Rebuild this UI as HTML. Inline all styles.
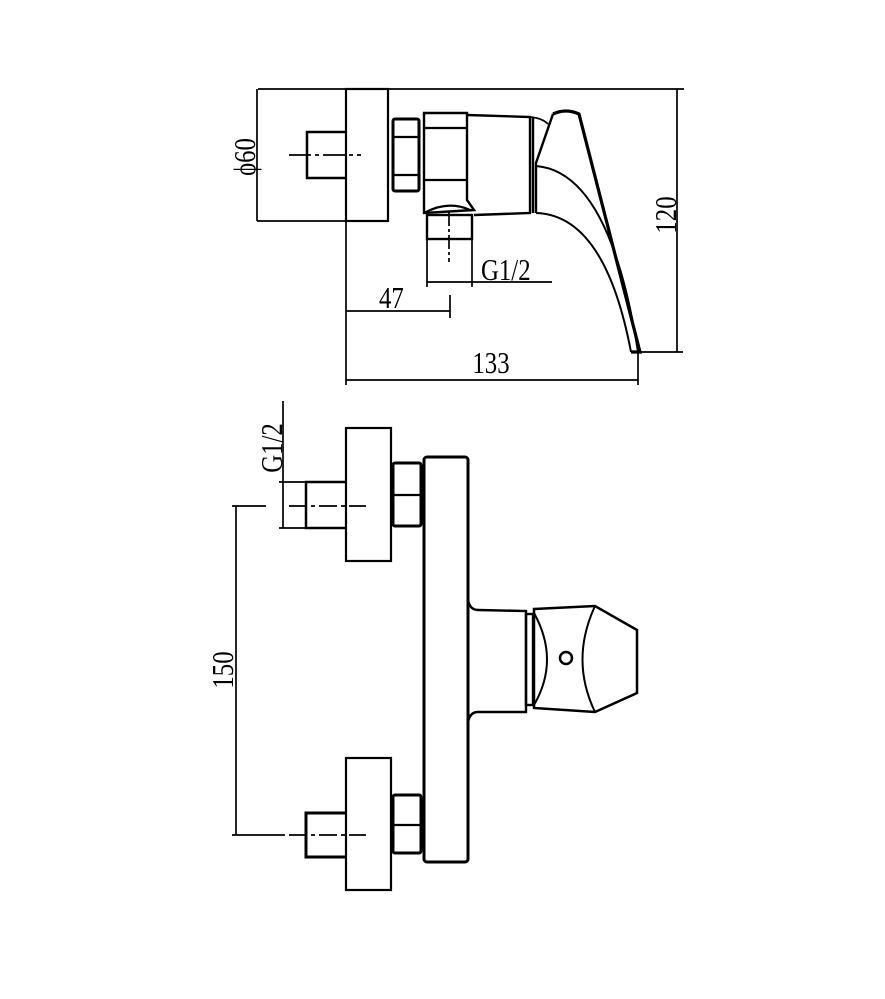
<!DOCTYPE html>
<html><head><meta charset="utf-8"><style>html,body{margin:0;padding:0;background:#fff}svg{display:block}</style></head>
<body>
<svg width="885" height="999" viewBox="0 0 885 999" xmlns="http://www.w3.org/2000/svg" font-family="Liberation Serif, serif" fill="none" stroke="#000" stroke-width="1.7">
<!-- TOP VIEW -->
<line x1="258" y1="89" x2="684" y2="89"/>
<line x1="257" y1="89" x2="257" y2="221"/>
<line x1="257" y1="221" x2="346" y2="221"/>
<rect x="346" y="89" width="42" height="132" stroke-width="2.2"/>
<polyline points="346,132 307,132 307,178 346,178" stroke-width="2.5"/>
<line x1="289" y1="155" x2="361" y2="155" stroke-dasharray="22,4,4,4"/>
<rect x="393" y="119" width="26" height="72" rx="2" stroke-width="3"/>
<line x1="393" y1="137" x2="419" y2="137" stroke-width="2.2"/>
<line x1="393" y1="175" x2="419" y2="175" stroke-width="2.2"/>
<path d="M424,113 L467,113 L467,200 L474,210 L424,213 Z" stroke-width="2.4"/>
<line x1="424" y1="128" x2="467" y2="128" stroke-width="2.2"/>
<line x1="424" y1="180" x2="467" y2="180" stroke-width="2.2"/>
<path d="M424,213 Q448,200 470,210" stroke-width="2.2"/>
<path d="M467,115 L530,117 L530,213 L474,215" stroke-width="2.4"/>
<path d="M530,117 Q542,118 548,124" stroke-width="1.7"/>
<line x1="533" y1="117" x2="533" y2="213" stroke-width="2.4"/>
<rect x="427" y="215" width="45" height="24" stroke-width="2.4"/>
<line x1="449" y1="212" x2="449" y2="262" stroke-dasharray="14,3,3,3"/>
<path d="M553,114 Q566,108 579,114 L640,352 L631,352" stroke-width="3.2"/>
<path d="M553,114 L536,163 L536,213" stroke-width="2.4"/>
<path d="M536,166 Q610,172 638,352" stroke-width="2"/>
<path d="M536,213 Q605,215 631,352" stroke-width="2"/>
<line x1="427" y1="239" x2="427" y2="287"/>
<line x1="472" y1="239" x2="472" y2="287"/>
<line x1="427" y1="282" x2="552" y2="282"/>
<text transform="translate(481,280) scale(0.8,1)" font-size="31" fill="#000" stroke="none">G1/2</text>
<line x1="346" y1="311" x2="450" y2="311"/>
<line x1="450" y1="295" x2="450" y2="318"/>
<text transform="translate(379,308) scale(0.8,1)" font-size="31" fill="#000" stroke="none">47</text>
<line x1="346" y1="221" x2="346" y2="385"/>
<line x1="346" y1="380" x2="638" y2="380"/>
<line x1="638" y1="352" x2="638" y2="385"/>
<text transform="translate(491,373) scale(0.8,1)" font-size="31" fill="#000" stroke="none" text-anchor="middle">133</text>
<line x1="677" y1="89" x2="677" y2="352"/>
<line x1="640" y1="352" x2="683" y2="352"/>
<text transform="translate(676,215) rotate(-90) scale(0.8,1)" font-size="31" fill="#000" stroke="none" text-anchor="middle">120</text>
<text transform="translate(255,157) rotate(-90) scale(0.8,1)" font-size="31" fill="#000" stroke="none" text-anchor="middle">ϕ60</text>

<!-- BOTTOM VIEW -->
<rect x="346" y="428" width="45" height="133" stroke-width="2.2"/>
<polyline points="346,482 306,482 306,528 346,528" stroke-width="2.5"/>
<line x1="283" y1="401" x2="283" y2="528"/>
<line x1="279" y1="482" x2="306" y2="482"/>
<line x1="279" y1="528" x2="306" y2="528"/>
<text transform="translate(282,448) rotate(-90) scale(0.8,1)" font-size="31" fill="#000" stroke="none" text-anchor="middle">G1/2</text>
<line x1="289" y1="506" x2="366" y2="506" stroke-dasharray="18,4,4,4"/>
<line x1="236" y1="506" x2="236" y2="835"/>
<line x1="232" y1="506" x2="266" y2="506"/>
<line x1="232" y1="835" x2="285" y2="835"/>
<line x1="289" y1="835" x2="366" y2="835" stroke-dasharray="18,4,4,4"/>
<text transform="translate(233,670) rotate(-90) scale(0.8,1)" font-size="31" fill="#000" stroke="none" text-anchor="middle">150</text>
<rect x="393" y="463" width="28" height="63" rx="2" stroke-width="3"/>
<line x1="393" y1="495" x2="421" y2="495" stroke-width="2.2"/>
<rect x="393" y="795" width="28" height="58" rx="2" stroke-width="3"/>
<line x1="393" y1="825" x2="421" y2="825" stroke-width="2.2"/>
<rect x="424" y="457" width="44" height="405" rx="3" stroke-width="3"/>
<rect x="346" y="758" width="45" height="132" stroke-width="2.2"/>
<polyline points="346,813 306,813 306,857 346,857" stroke-width="3"/>
<path d="M468,600 Q470,610 478,610 L526,611 L526,712 L478,712 Q470,712 468,722" stroke-width="2.4"/>
<rect x="526" y="614" width="7" height="91" stroke-width="2.4"/>
<path d="M534,609 L595,606 L637,630 L637,693 L595,712 L534,708 Z" stroke-width="2.5"/>
<path d="M534,613 Q560,660 534,705" stroke-width="2"/>
<path d="M595,606 Q570,660 595,712" stroke-width="2"/>
<circle cx="566" cy="658" r="6" stroke-width="2.5"/>
</svg>
</body></html>
